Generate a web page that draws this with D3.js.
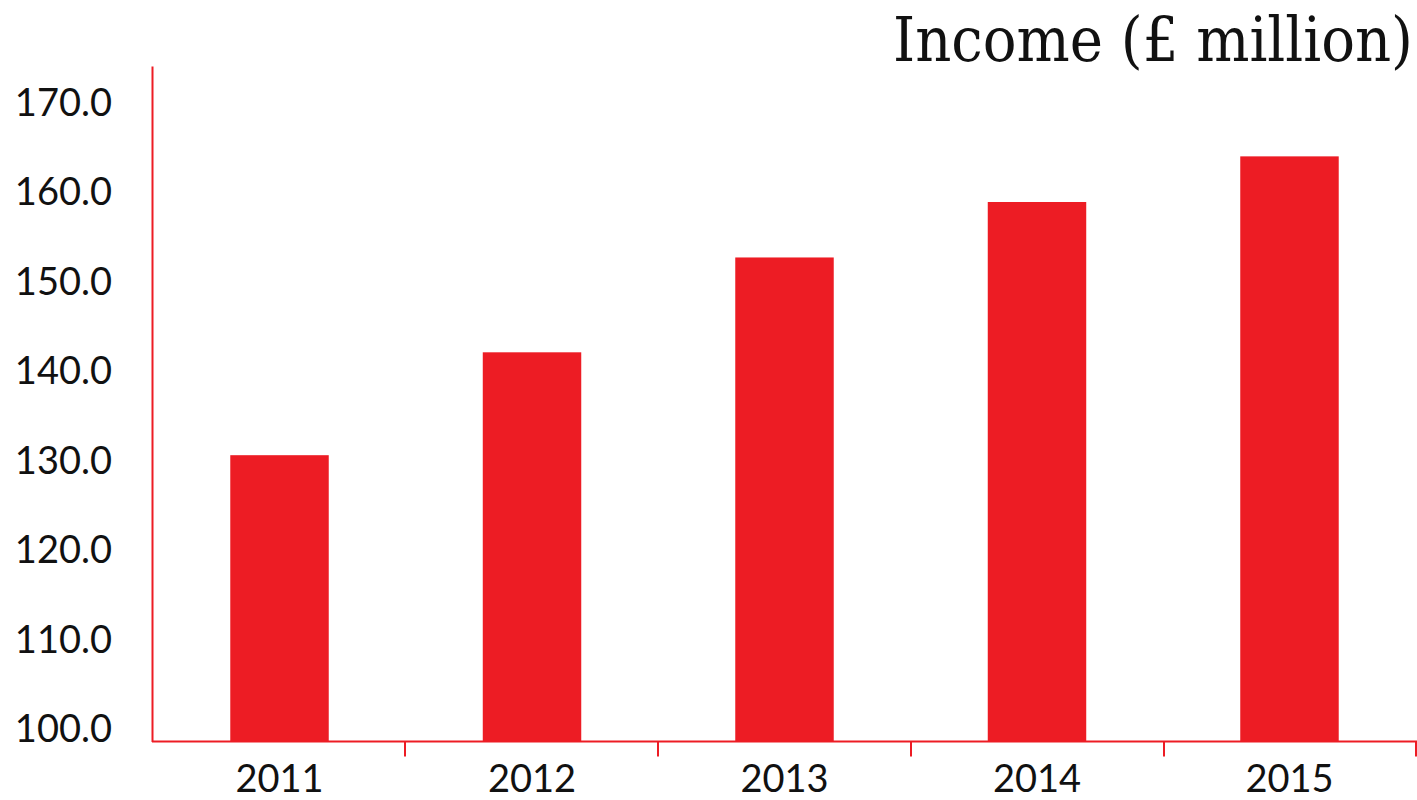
<!DOCTYPE html>
<html lang="en">
<head>
    <meta charset="UTF-8">
    <title>Income</title>
    <script src="https://d3js.org/d3.v7.min.js"></script>
    <style>
        body { margin: 0; background: #fff; }
        svg { display: block; }
    </style>
</head>
<body>
    <div id="chart"></div>
    <script>
        // data
        const years = ["2011", "2012", "2013", "2014", "2015"];
        const income = [132.0, 143.5, 154.1, 160.3, 165.4];
        const yTicks = [100, 110, 120, 130, 140, 150, 160, 170];
        const title = "Income (£ million)";

        const W = 1417, H = 800;
        const red = "#ED1C24";
        // plot box (avoid `top`, it is a window global)
        const plotLeft = 152, plotRight = 1417, plotTop = 66, plotBottom = 741.5;

        const svg = d3.select("#chart")
            .append("svg")
            .attr("width", W)
            .attr("height", H);

        // scales
        const x = d3.scaleBand()
            .domain(years)
            .range([plotLeft, plotRight])
            .paddingInner(0.61)
            .paddingOuter(0.31);

        const y = d3.scaleLinear()
            .domain([100, 175.5])
            .range([plotBottom, plotTop]);

        // bars
        svg.append("g")
            .selectAll("rect")
            .data(years)
            .join("rect")
            .attr("x", d => x(d))
            .attr("width", x.bandwidth())
            .attr("y", (d, i) => y(income[i]))
            .attr("height", (d, i) => plotBottom - y(income[i]))
            .attr("fill", red);

        // y axis: labels sit on the tick line
        const yAxis = svg.append("g")
            .attr("transform", `translate(${plotLeft},0)`)
            .call(d3.axisLeft(y)
                .tickValues(yTicks)
                .tickFormat(d3.format(".1f"))
                .tickSize(0)
                .tickSizeOuter(0)
                .tickPadding(40));
        yAxis.select(".domain").attr("stroke", red).attr("stroke-width", 2);
        yAxis.selectAll("text")
            .attr("dy", 0)
            .attr("fill", "#111")
            .style("font-family", "Lato, 'Open Sans', sans-serif")
            .style("font-size", "38px");

        // x axis: base line, ticks on band boundaries
        const step = (plotRight - plotLeft) / years.length;
        const xAxis = svg.append("g");
        xAxis.append("line")
            .attr("x1", plotLeft).attr("x2", plotRight)
            .attr("y1", plotBottom).attr("y2", plotBottom)
            .attr("stroke", red).attr("stroke-width", 2);
        xAxis.selectAll("line.tick")
            .data(years)
            .join("line")
            .attr("class", "tick")
            .attr("x1", (d, i) => Math.min(plotLeft + step * (i + 1), plotRight - 1))
            .attr("x2", (d, i) => Math.min(plotLeft + step * (i + 1), plotRight - 1))
            .attr("y1", plotBottom)
            .attr("y2", plotBottom + 15)
            .attr("stroke", red).attr("stroke-width", 2);
        xAxis.selectAll("text")
            .data(years)
            .join("text")
            .attr("x", d => x(d) + x.bandwidth() / 2)
            .attr("y", 792)
            .attr("text-anchor", "middle")
            .attr("fill", "#111")
            .style("font-family", "Lato, 'Open Sans', sans-serif")
            .style("font-size", "38px")
            .text(d => d);

        // title, fitted to the width it takes in the reference
        const t = svg.append("text")
            .attr("x", 1413)
            .attr("y", 61)
            .attr("text-anchor", "end")
            .attr("fill", "#111")
            .style("font-family", "'DejaVu Serif Condensed', 'DejaVu Serif', serif")
            .style("font-size", "60px")
            .text(title);
        const len = t.node().getComputedTextLength();
        if (len > 0) t.style("font-size", Math.min(64, 60 * 520 / len) + "px");
    </script>
</body>
</html>
